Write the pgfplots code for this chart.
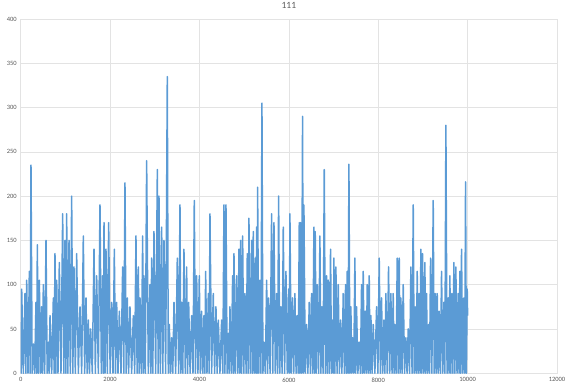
\documentclass[border=0pt]{standalone}
\usepackage{pgfplots}
\pgfplotsset{compat=1.18}
\usepackage{fontspec}
\setmainfont{Carlito}
\definecolor{exblue}{HTML}{5B9BD5}
\definecolor{gridc}{HTML}{E3E3E3}
\definecolor{labc}{HTML}{595959}
\begin{document}
\begin{tikzpicture}
\begin{axis}[
  name=ax,
  scale only axis, width=536pt, height=354pt,
  xmin=0, xmax=12000, ymin=0, ymax=400,
  xtick distance=2000, ytick distance=50,
  grid=major, major grid style={draw=gridc, line width=0.6pt},
  axis line style={draw=gridc, line width=0.6pt},
  major tick length=0pt,
  ticklabel style={font=\fontsize{6.5}{7}\selectfont, text=labc},
  /pgf/number format/assume math mode=true,
  scaled x ticks=false,
  x tick label style={/pgf/number format/1000 sep={}, yshift=-1pt},
  y tick label style={xshift=-0.5pt},
  title={111},
  title style={font=\fontsize{9.5}{11}\selectfont, text=labc, at={(0.5,1)}, anchor=south, yshift=1pt},
]
\addplot[exblue, line width=1.5pt, line join=round] table[row sep=\\] {
0 40\\ 11 0\\ 22 95\\ 59 0\\ 96 90\\ 115 0\\ 134 105\\ 163 0\\ 193 115\\ 211 0\\
230 235\\ 256 0\\ 283 33\\ 312 0\\ 342 80\\ 357 0\\ 372 145\\ 394 0\\ 417 105\\ 443 0\\
469 75\\ 487 0\\ 506 100\\ 536 0\\ 566 150\\ 592 0\\ 618 35\\ 637 0\\ 656 65\\ 693 0\\
730 85\\ 748 0\\ 767 135\\ 786 0\\ 805 105\\ 834 0\\ 864 125\\ 901 0\\ 939 180\\ 965 0\\
991 150\\ 1010 0\\ 1028 180\\ 1055 0\\ 1081 150\\ 1110 0\\ 1140 200\\ 1166 0\\ 1192 120\\ 1222 0\\
1252 135\\ 1290 0\\ 1327 75\\ 1364 0\\ 1401 155\\ 1431 0\\ 1461 85\\ 1487 0\\ 1513 60\\ 1539 0\\
1565 50\\ 1602 0\\ 1640 140\\ 1670 0\\ 1700 110\\ 1737 0\\ 1774 190\\ 1804 0\\ 1834 110\\ 1849 0\\
1864 170\\ 1886 0\\ 1908 140\\ 1938 0\\ 1968 170\\ 2001 0\\ 2035 80\\ 2065 0\\ 2095 140\\ 2121 0\\
2147 80\\ 2177 0\\ 2207 70\\ 2244 0\\ 2281 120\\ 2307 0\\ 2333 215\\ 2360 0\\ 2386 85\\ 2415 0\\
2445 75\\ 2482 0\\ 2520 65\\ 2550 0\\ 2579 155\\ 2605 0\\ 2632 120\\ 2650 0\\ 2669 85\\ 2699 0\\
2729 155\\ 2743 0\\ 2758 110\\ 2788 0\\ 2818 240\\ 2855 0\\ 2893 100\\ 2911 0\\ 2930 130\\ 2956 0\\
2982 160\\ 3020 0\\ 3057 230\\ 3075 0\\ 3094 200\\ 3124 0\\ 3154 165\\ 3180 0\\ 3206 150\\ 3243 0\\
3280 335\\ 3302 0\\ 3325 55\\ 3351 0\\ 3377 40\\ 3403 0\\ 3430 80\\ 3467 0\\ 3504 130\\ 3534 0\\
3564 190\\ 3582 0\\ 3601 80\\ 3627 0\\ 3653 140\\ 3683 0\\ 3713 120\\ 3735 0\\ 3758 80\\ 3791 0\\
3825 65\\ 3855 0\\ 3884 195\\ 3910 0\\ 3937 110\\ 3966 0\\ 3996 110\\ 4022 0\\ 4048 70\\ 4075 0\\
4101 65\\ 4120 0\\ 4138 115\\ 4168 0\\ 4198 90\\ 4216 0\\ 4235 180\\ 4272 0\\ 4309 90\\ 4339 0\\
4369 75\\ 4395 0\\ 4421 60\\ 4458 0\\ 4496 60\\ 4522 0\\ 4548 190\\ 4570 0\\ 4593 190\\ 4619 0\\
4645 45\\ 4663 0\\ 4682 75\\ 4712 0\\ 4742 110\\ 4757 0\\ 4772 135\\ 4801 0\\ 4831 110\\ 4857 0\\
4884 140\\ 4902 0\\ 4921 150\\ 4943 0\\ 4966 155\\ 4992 0\\ 5018 90\\ 5044 0\\ 5070 135\\ 5088 0\\
5107 175\\ 5137 0\\ 5167 150\\ 5185 0\\ 5204 160\\ 5226 0\\ 5249 130\\ 5264 0\\ 5279 165\\ 5290 0\\
5301 210\\ 5327 0\\ 5353 105\\ 5375 0\\ 5398 305\\ 5420 0\\ 5443 35\\ 5473 0\\ 5503 105\\ 5525 0\\
5547 85\\ 5580 0\\ 5614 180\\ 5640 0\\ 5667 170\\ 5696 0\\ 5726 90\\ 5748 0\\ 5771 200\\ 5797 0\\
5823 75\\ 5849 0\\ 5875 165\\ 5905 0\\ 5935 115\\ 5965 0\\ 5995 95\\ 6009 0\\ 6024 180\\ 6053 0\\
6083 85\\ 6109 0\\ 6136 90\\ 6162 0\\ 6188 65\\ 6210 0\\ 6233 170\\ 6247 0\\ 6262 170\\ 6284 0\\
6307 290\\ 6322 0\\ 6337 190\\ 6367 0\\ 6397 55\\ 6426 0\\ 6456 80\\ 6482 0\\ 6508 90\\ 6534 0\\
6561 165\\ 6575 0\\ 6590 160\\ 6612 0\\ 6635 100\\ 6665 0\\ 6695 155\\ 6717 0\\ 6740 75\\ 6766 0\\
6792 230\\ 6818 0\\ 6844 110\\ 6862 0\\ 6881 105\\ 6907 0\\ 6933 140\\ 6955 0\\ 6978 60\\ 6993 0\\
7008 130\\ 7030 0\\ 7053 120\\ 7079 0\\ 7105 100\\ 7131 0\\ 7157 60\\ 7187 0\\ 7217 90\\ 7243 0\\
7269 100\\ 7287 0\\ 7306 115\\ 7325 0\\ 7344 236\\ 7366 0\\ 7388 75\\ 7407 0\\ 7426 40\\ 7452 0\\
7478 130\\ 7496 0\\ 7515 75\\ 7545 0\\ 7575 35\\ 7601 0\\ 7627 100\\ 7645 0\\ 7664 115\\ 7686 0\\
7709 70\\ 7731 0\\ 7754 100\\ 7776 0\\ 7798 110\\ 7817 0\\ 7836 65\\ 7862 0\\ 7888 55\\ 7925 0\\
7963 75\\ 7992 0\\ 8022 130\\ 8048 0\\ 8074 85\\ 8100 0\\ 8127 60\\ 8149 0\\ 8171 90\\ 8201 0\\
8231 120\\ 8257 0\\ 8283 90\\ 8309 0\\ 8335 90\\ 8354 0\\ 8373 55\\ 8399 0\\ 8425 130\\ 8447 0\\
8470 130\\ 8488 0\\ 8507 85\\ 8533 0\\ 8559 100\\ 8589 0\\ 8619 40\\ 8645 0\\ 8671 50\\ 8701 0\\
8731 120\\ 8757 0\\ 8783 190\\ 8805 0\\ 8828 75\\ 8850 0\\ 8872 115\\ 8894 0\\ 8917 90\\ 8935 0\\
8954 140\\ 8973 0\\ 8992 135\\ 9018 0\\ 9044 125\\ 9062 0\\ 9081 90\\ 9103 0\\ 9126 55\\ 9148 0\\
9171 130\\ 9200 0\\ 9230 195\\ 9252 0\\ 9275 90\\ 9297 0\\ 9320 90\\ 9342 0\\ 9364 70\\ 9390 0\\
9417 115\\ 9443 0\\ 9469 80\\ 9491 0\\ 9514 280\\ 9540 0\\ 9566 85\\ 9584 0\\ 9603 110\\ 9625 0\\
9648 90\\ 9670 0\\ 9693 125\\ 9715 0\\ 9737 120\\ 9763 0\\ 9790 90\\ 9808 0\\ 9827 115\\ 9845 0\\
9864 140\\ 9890 0\\ 9916 85\\ 9935 0\\ 9954 216\\ 9972 0\\ 9991 95\\ 10000 65\\
};
\end{axis}
\pgfresetboundingbox
\path[use as bounding box] ([shift={(-20.7pt,-17pt)}]ax.south west) rectangle ([shift={(13pt,19pt)}]ax.north east);
\end{tikzpicture}
\end{document}
